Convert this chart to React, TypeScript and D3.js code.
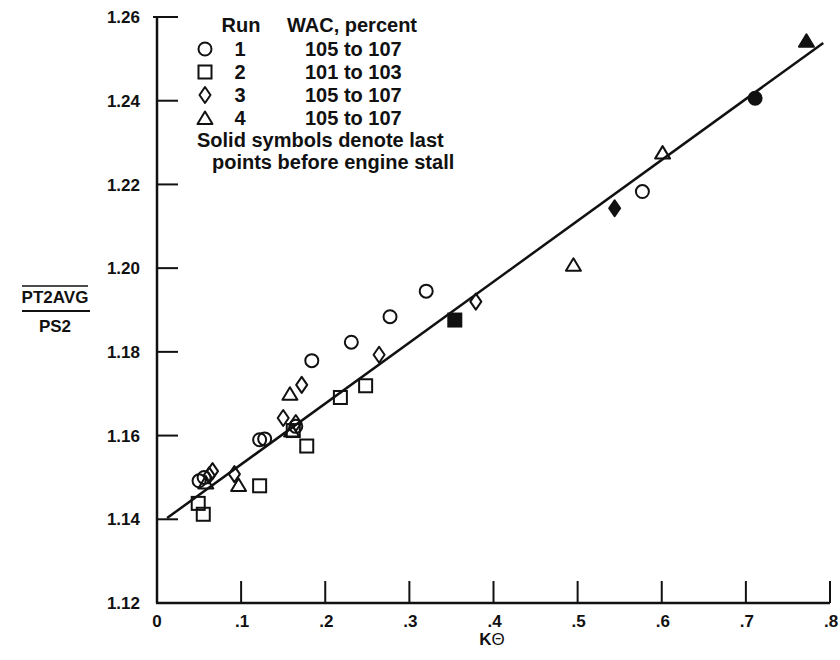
import React from "react";
import * as d3 from "d3";

// ---- data ----
const xTicks = [0, 0.1, 0.2, 0.3, 0.4, 0.5, 0.6, 0.7, 0.8];
const xTickLabels = ["0", ".1", ".2", ".3", ".4", ".5", ".6", ".7", ".8"];
const yTicks = [1.12, 1.14, 1.16, 1.18, 1.2, 1.22, 1.24, 1.26];
const yTickLabels = ["1.12", "1.14", "1.16", "1.18", "1.20", "1.22", "1.24", "1.26"];

// Run 1 (circles)
const run1X = [0.05, 0.056, 0.122, 0.128, 0.165, 0.184, 0.231, 0.277, 0.32, 0.577, 0.711];
const run1Y = [1.1492, 1.15, 1.159, 1.1592, 1.1622, 1.1779, 1.1823, 1.1884, 1.1945, 1.2183, 1.2406];
const run1Solid = [10];
// Run 2 (squares)
const run2X = [0.049, 0.055, 0.122, 0.162, 0.178, 0.218, 0.248, 0.354];
const run2Y = [1.1438, 1.1412, 1.148, 1.1612, 1.1575, 1.1691, 1.1719, 1.1876];
const run2Solid = [7];
// Run 3 (diamonds)
const run3X = [0.062, 0.066, 0.092, 0.15, 0.165, 0.172, 0.264, 0.379, 0.544];
const run3Y = [1.1505, 1.1515, 1.1508, 1.1642, 1.163, 1.1721, 1.1793, 1.192, 1.2143];
const run3Solid = [8];
// Run 4 (triangles)
const run4X = [0.058, 0.097, 0.158, 0.16, 0.495, 0.601, 0.772];
const run4Y = [1.1488, 1.1482, 1.17, 1.1612, 1.2008, 1.2276, 1.2543];
const run4Solid = [6];

// fitted line
const fitX = [0.012, 0.792];
const fitY = [1.1403, 1.2538];

// legend
const legendRuns = ["1", "2", "3", "4"];
const legendWac = ["105 to 107", "101 to 103", "105 to 107", "105 to 107"];
const legendShapes = ["circle", "square", "diamond", "triangle"];

const INK = "#111";
const FONT = "'Liberation Sans', Arial, Helvetica, sans-serif";

function Marker({ shape, cx, cy, filled }: { shape: string; cx: number; cy: number; filled: boolean }) {
  const fill = filled ? INK : "none";
  const sw = 2;
  if (shape === "circle") return <circle cx={cx} cy={cy} r={6.5} fill={fill} stroke={INK} strokeWidth={sw} />;
  if (shape === "square") return <rect x={cx - 6.5} y={cy - 6.5} width={13} height={13} fill={fill} stroke={INK} strokeWidth={sw} />;
  if (shape === "diamond")
    return (
      <path d={`M${cx},${cy - 8} L${cx + 5.5},${cy} L${cx},${cy + 8} L${cx - 5.5},${cy} Z`} fill={fill} stroke={INK} strokeWidth={sw} strokeLinejoin="round" />
    );
  return (
    <path d={`M${cx},${cy - 6.5} L${cx + 7.5},${cy + 6} L${cx - 7.5},${cy + 6} Z`} fill={fill} stroke={INK} strokeWidth={sw} strokeLinejoin="round" />
  );
}

export default function App() {
  const W = 840, H = 660;
  const x = d3.scaleLinear().domain([0, 0.8]).range([157, 830]);
  const y = d3.scaleLinear().domain([1.12, 1.26]).range([603, 17]);

  const series = [
    { shape: "circle", xs: run1X, ys: run1Y, solid: run1Solid },
    { shape: "square", xs: run2X, ys: run2Y, solid: run2Solid },
    { shape: "diamond", xs: run3X, ys: run3Y, solid: run3Solid },
    { shape: "triangle", xs: run4X, ys: run4Y, solid: run4Solid },
  ];

  const line = d3.line<number>().x((d, i) => x(fitX[i])).y((d, i) => y(fitY[i]));

  const legendRowY = [49, 72, 95, 118];

  return (
    <svg width={W} height={H} style={{ display: "block", position: "absolute", left: 0, top: 0, background: "#fff" }} fontFamily={FONT} fontWeight="bold">
      <rect x={0} y={0} width={W} height={H} fill="#fff" />
      {/* axes */}
      <line x1={x(0)} y1={y(1.26)} x2={x(0)} y2={y(1.12)} stroke={INK} strokeWidth={2.5} />
      <line x1={x(0) - 1} y1={y(1.12)} x2={x(0.8)} y2={y(1.12)} stroke={INK} strokeWidth={2.5} />
      {yTicks.map((t, i) => (
        <g key={"y" + i}>
          {i > 0 && <line x1={x(0) - (i === yTicks.length - 1 ? 4 : 0)} y1={y(t)} x2={x(0) + 21} y2={y(t)} stroke={INK} strokeWidth={2} />}
          <text x={140} y={y(t)} dy="0.36em" textAnchor="end" fontSize={17} fill={INK}>
            {yTickLabels[i]}
          </text>
        </g>
      ))}
      {xTicks.map((t, i) => (
        <g key={"x" + i}>
          {i > 0 && <line x1={x(t)} y1={y(1.12)} x2={x(t)} y2={y(1.12) - 22} stroke={INK} strokeWidth={2} />}
          <text x={x(t) + (i === 0 ? 0 : 1)} y={627} textAnchor="middle" fontSize={17} fill={INK}>
            {xTickLabels[i]}
          </text>
        </g>
      ))}
      {/* axis titles */}
      <text x={492} y={645} textAnchor="middle" fontSize={17} fill={INK} fontWeight="normal">
        <tspan fontWeight="bold">K</tspan>Θ
      </text>
      <g fill={INK}>
        <text x={55} y={303} textAnchor="middle" fontSize={17}>PT2AVG</text>
        <line x1={22} y1={286} x2={88} y2={286} stroke={INK} strokeWidth={1.5} />
        <line x1={22} y1={311} x2={90} y2={311} stroke={INK} strokeWidth={2} />
        <text x={55} y={332} textAnchor="middle" fontSize={17}>PS2</text>
      </g>
      {/* fitted line */}
      <path d={line(fitX) || ""} fill="none" stroke={INK} strokeWidth={2.5} />
      {/* data */}
      {series.map((s, si) =>
        s.xs.map((xv, i) => (
          <Marker key={si + "-" + i} shape={s.shape} cx={x(xv)} cy={y(s.ys[i])} filled={s.solid.includes(i)} />
        ))
      )}
      {/* legend */}
      <g fill={INK} fontSize={20}>
        <text x={241} y={32} textAnchor="middle">Run</text>
        <text x={287} y={32}>WAC, percent</text>
        {legendRuns.map((r, i) => (
          <g key={"l" + i}>
            <Marker shape={legendShapes[i]} cx={205} cy={legendRowY[i]} filled={false} />
            <text x={240} y={legendRowY[i] + 7} textAnchor="middle">{r}</text>
            <text x={305} y={legendRowY[i] + 7}>{legendWac[i]}</text>
          </g>
        ))}
        <text x={197} y={147}>Solid symbols denote last</text>
        <text x={212} y={169}>points before engine stall</text>
      </g>
    </svg>
  );
}
